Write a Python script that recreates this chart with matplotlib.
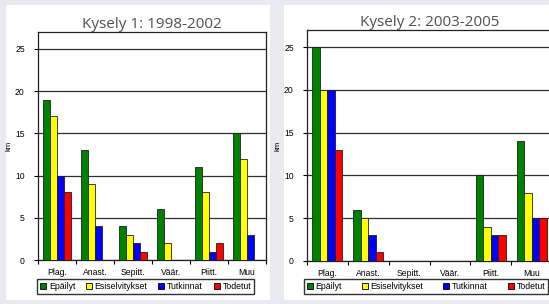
import numpy as np
import matplotlib.pyplot as plt
from matplotlib.patches import Rectangle, Patch

# --- Data ---
categories = ['Plag.', 'Anast.', 'Sepitt.', 'Väär.', 'Piitt.', 'Muu']
series = ['Epäilyt', 'Esiselvitykset', 'Tutkinnat', 'Todetut']
colors = ['#008000', '#FFFF00', '#0000FF', '#FF0000']

k1_epailyt = [19, 13, 4, 6, 11, 15]
k1_esisel = [17, 9, 3, 2, 8, 12]
k1_tutkinnat = [10, 4, 2, 0, 1, 3]
k1_todetut = [8, 0, 1, 0, 2, 0]

k2_epailyt = [25, 6, 0, 0, 10, 14]
k2_esisel = [20, 5, 0, 0, 4, 8]
k2_tutkinnat = [20, 3, 0, 0, 3, 5]
k2_todetut = [13, 1, 0, 0, 3, 5]

W, H = 549, 304
fig = plt.figure(figsize=(W / 100, H / 100), dpi=100)
fig.patch.set_facecolor('#E9E9F0')

# white panels
for x0, x1 in [(6, 270), (284, 549)]:
    fig.patches.append(Rectangle((x0 / W, 4 / H), (x1 - x0) / W, 1 - 9 / H,
                                 transform=fig.transFigure, facecolor='white',
                                 edgecolor='none', zorder=-5))


def draw(axbox, data, title, legbox):
    ax = fig.add_axes(axbox)
    ax.set_zorder(1)
    x = np.arange(len(categories))
    bw = 0.184
    for i, (vals, c) in enumerate(zip(data, colors)):
        ax.bar(x + (i - 1.5) * bw, vals, bw, color=c, edgecolor='#202020',
               linewidth=0.6, zorder=3)
    ax.set_xlim(-0.5, len(categories) - 0.5)
    ax.set_ylim(0, 27)
    ax.set_yticks([0, 5, 10, 15, 20, 25])
    ax.set_xticks(x)
    ax.set_xticklabels(categories)
    ax.set_xticks(np.arange(-0.5, len(categories)), minor=True)
    ax.tick_params(axis='x', which='major', length=0, pad=6, labelsize=6.2)
    ax.tick_params(axis='x', which='minor', length=3, width=0.8, direction='out')
    ax.tick_params(axis='y', length=3, width=0.8, labelsize=6.2, pad=6.5)
    for lab in ax.get_xticklabels() + ax.get_yticklabels():
        lab.set_fontfamily('Liberation Sans')
    ax.grid(axis='y', color='#303030', linewidth=0.9, zorder=0)
    ax.set_axisbelow(True)
    for s in ax.spines.values():
        s.set_color('#202020')
        s.set_linewidth(0.9)
    ax.set_ylabel('km', fontsize=5.5, family='Liberation Sans', labelpad=2)
    ax.set_title(title, fontsize=11, color='#505050', family='Open Sans', pad=2)
    handles = [Patch(facecolor=c, edgecolor='black', linewidth=0.6) for c in colors]
    fig.legend(handles, series, loc='lower left', bbox_to_anchor=legbox,
               bbox_transform=fig.transFigure, ncol=4, mode='expand',
               prop={'family': 'Liberation Sans', 'size': 6.3}, frameon=True,
               fancybox=False, edgecolor='black', handlelength=0.7,
               handleheight=0.7, handletextpad=0.3, borderpad=0.3,
               columnspacing=1.0)
    return ax


draw([38 / W, 44 / H, 228 / W, 228 / H],
     [k1_epailyt, k1_esisel, k1_tutkinnat, k1_todetut],
     'Kysely 1: 1998-2002', (33 / W, 6 / H, 225 / W, 15 / H))
draw([307 / W, 43 / H, 245 / W, 231 / H],
     [k2_epailyt, k2_esisel, k2_tutkinnat, k2_todetut],
     'Kysely 2: 2003-2005', (300 / W, 6 / H, 252 / W, 15 / H))

fig.savefig('out.png', dpi=100, facecolor=fig.get_facecolor())
